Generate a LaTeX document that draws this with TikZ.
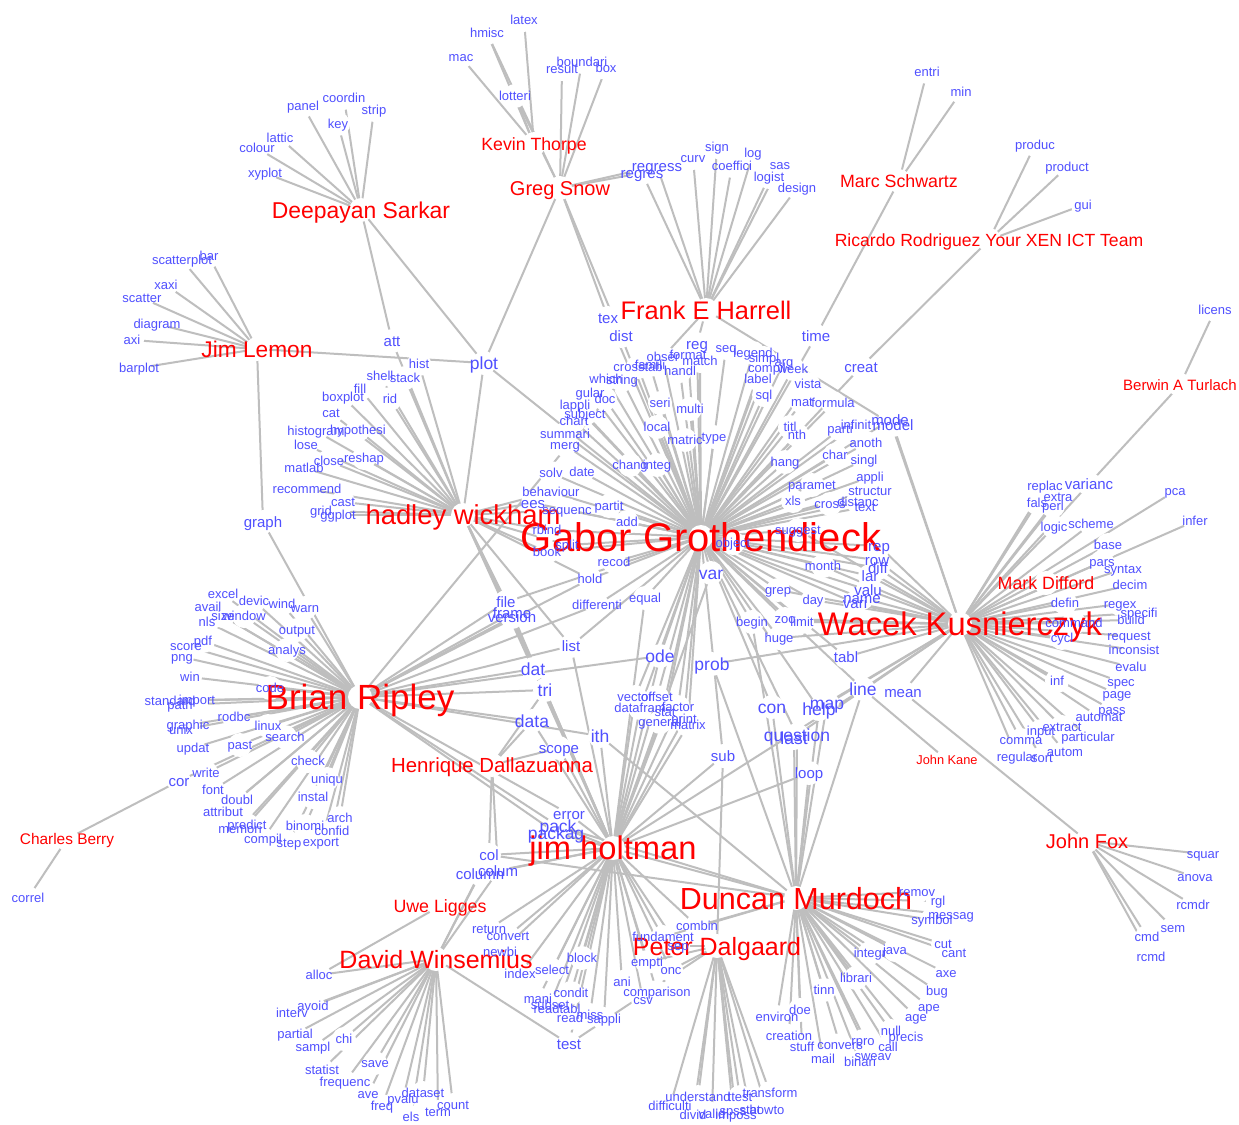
\documentclass[tikz,border=0pt]{standalone}
\usepackage{fontspec}
\setmainfont{Liberation Sans}
\pgfdeclarelayer{bg}\pgfdeclarelayer{edges}\pgfdeclarelayer{dots}
\pgfsetlayers{bg,edges,dots,main}
\definecolor{termblue}{RGB}{80,80,255}
\definecolor{hubred}{RGB}{255,0,0}
\definecolor{edgegray}{RGB}{190,190,190}
\tikzset{
 lab/.style={inner sep=0pt, outer sep=0pt, text depth=0pt},
 tS/.style={lab, text=termblue, font=\fontsize{13}{13}\selectfont, text height=9.4pt},
 tM/.style={lab, text=termblue, font=\fontsize{15}{15}\selectfont, text height=10.8pt},
 tL/.style={lab, text=termblue, font=\fontsize{17.5}{17.5}\selectfont, text height=12.6pt},
 hub/.style 2 args={lab, text=hubred, font=\fontsize{#1}{#1}\selectfont, text height=#2pt},
 lnk/.style={draw=edgegray, line width=2pt},
}
\gdef\allnodes{GG}
\newcommand\mynode[5]{\node[#4] (#1) at (#2,#3) {#5};\xdef\allnodes{\allnodes,#1}}
\newcommand\Wd[4][tS]{\mynode{#2}{#3}{#4}{#1}{#2}}
\newcommand\myedges[2]{\foreach \nn in {#2}{\draw[lnk] (#1.center) -- (\nn.center);}}
\begin{document}
\begin{tikzpicture}[x=1pt,y=-1pt]
\begin{pgfonlayer}{bg}\fill[white] (0,0) rectangle (1239,1124);\end{pgfonlayer}
\useasboundingbox (0,0) rectangle (1239,1124);
% hubs
\node[hub={40}{28.8}] (GG) at (701,537) {Gabor Grothendieck};
\mynode{BR}{360}{697}{hub={35}{25.2}}{Brian Ripley}
\mynode{WK}{960}{624}{hub={32.7}{23.5}}{Wacek Kusnierczyk}
\mynode{JH}{613}{848}{hub={32.7}{23.5}}{jim holtman}
\mynode{DM}{796}{898}{hub={30.5}{22}}{Duncan Murdoch}
\mynode{PD}{717}{946}{hub={25}{18}}{Peter Dalgaard}
\mynode{DW}{436}{959}{hub={25}{18}}{David Winsemius}
\mynode{HW}{463}{515}{hub={27.4}{19.7}}{hadley wickham}
\mynode{FH}{706}{310}{hub={25.4}{18.3}}{Frank E Harrell}
\mynode{DS}{361}{210}{hub={22.9}{16.5}}{Deepayan Sarkar}
\mynode{JL}{257}{349}{hub={22.7}{16.3}}{Jim Lemon}
\mynode{GS}{560}{188}{hub={20}{14.4}}{Greg Snow}
\mynode{KT}{534}{144}{hub={17.7}{12.7}}{Kevin Thorpe}
\mynode{MS}{899}{181}{hub={17.8}{12.8}}{Marc Schwartz}
\mynode{RR}{989}{240}{hub={17.6}{12.7}}{Ricardo Rodriguez Your XEN ICT Team}
\mynode{BT}{1180}{385}{hub={15}{10.8}}{Berwin A Turlach}
\mynode{MD}{1046}{583}{hub={17.8}{12.8}}{Mark Difford}
\mynode{JK}{947}{760}{hub={12.8}{9.2}}{John Kane}
\mynode{JF}{1087}{841}{hub={20}{14.4}}{John Fox}
\mynode{CB}{67}{839}{hub={15.4}{11.1}}{Charles Berry}
\mynode{UL}{440}{906}{hub={17.8}{12.8}}{Uwe Ligges}
\mynode{HD}{492}{765}{hub={20.4}{14.7}}{Henrique Dallazuanna}
% top-left
\Wd{coordin}{344}{98}
\Wd{panel}{303}{106}
\Wd{strip}{374}{110}
\Wd{key}{338}{124}
\Wd{lattic}{280}{138}
\Wd{colour}{257}{148}
\Wd{xyplot}{265}{173}
\Wd{scatterplot}{182}{260}
\Wd{bar}{209}{256}
\Wd{xaxi}{166}{285}
\Wd{scatter}{142}{298}
\Wd{diagram}{157}{324}
\Wd{axi}{132}{340}
\Wd{barplot}{139}{368}
\Wd[tM]{att}{392}{341}
\Wd{hist}{419}{364}
\Wd[tL]{plot}{484}{363}
\Wd[tM]{graph}{263}{522}
\Wd{latex}{524}{20}
\Wd{hmisc}{487}{33}
\Wd{mac}{461}{57}
\Wd{lotteri}{515}{96}
\Wd{boundari}{582}{62}
\Wd{result}{562}{69}
\Wd{box}{606}{68}
\Wd{sign}{717}{147}
\Wd{curv}{693}{158}
\Wd{log}{753}{153}
\Wd{coeffici}{732}{166}
\Wd{sas}{780}{165}
\Wd{logist}{769}{177}
\Wd{design}{797}{188}
\Wd[tM]{regress}{657}{166}
\Wd[tM]{regres}{642}{173}
\Wd[tM]{tex}{608}{318}
\Wd[tM]{dist}{621}{336}
\Wd[tM]{time}{816}{336}
\Wd[tM]{creat}{861}{367}
\Wd{entri}{927}{72}
\Wd{min}{961}{92}
\Wd{produc}{1035}{145}
\Wd{product}{1067}{167}
\Wd{gui}{1083}{205}
\Wd{licens}{1215}{310}
% Gabor cluster
\Wd[tM]{reg}{697}{344}
\Wd{seq}{726}{348}
\Wd{legend}{753}{353}
\Wd{simpl}{764}{358}
\Wd{arg}{784}{362}
\mynode{compil2}{767}{368}{tS}{compil}
\Wd{week}{793}{369}
\Wd{obser}{663}{357}
\Wd{format}{688}{355}
\Wd{match}{700}{361}
\Wd{famili}{650}{365}
\Wd{crosstab}{638}{367}
\Wd{handl}{680}{371}
\Wd{label}{758}{379}
\Wd{vista}{808}{384}
\Wd{which}{606}{379}
\Wd{string}{622}{380}
\Wd{sql}{764}{395}
\Wd{doc}{605}{399}
\Wd{gular}{590}{393}
\Wd{mat}{802}{402}
\Wd{formula}{833}{403}
\Wd{seri}{660}{403}
\Wd{multi}{690}{409}
\Wd{lappli}{575}{405}
\Wd{subject}{585}{414}
\Wd{chart}{574}{421}
\Wd{summari}{565}{434}
\Wd{merg}{565}{445}
\Wd{local}{657}{427}
\Wd{titl}{790}{427}
\Wd{nth}{797}{435}
\Wd{parti}{840}{429}
\Wd{infinit}{856}{425}
\Wd[tM]{model}{893}{425}
\Wd[tM]{mode}{890}{420}
\Wd{matric}{685}{440}
\Wd{type}{714}{437}
\Wd{anoth}{866}{443}
\Wd{hang}{785}{462}
\Wd{char}{835}{455}
\Wd{singl}{864}{460}
\Wd{chang}{630}{465}
\Wd{integ}{657}{465}
\Wd{solv}{551}{473}
\Wd{date}{582}{472}
\Wd{paramet}{812}{485}
\Wd{appli}{870}{477}
\Wd{structur}{870}{491}
\Wd{behaviour}{551}{492}
\Wd{xls}{793}{501}
\Wd{cross}{830}{504}
\Wd{distanc}{858}{502}
\Wd{text}{865}{507}
\Wd{partit}{609}{506}
\Wd[tM]{ees}{533}{503}
\Wd{sequenc}{567}{510}
\Wd{add}{627}{522}
\Wd{rbind}{547}{530}
\Wd{split}{567}{545}
\Wd{book}{547}{552}
\Wd{suggest}{798}{530}
\Wd{object}{733}{543}
\Wd{recod}{614}{562}
\Wd[tL]{var}{711}{573}
\Wd{hold}{590}{579}
\Wd{month}{823}{566}
\Wd{grep}{778}{590}
\Wd{equal}{645}{598}
\Wd{day}{813}{600}
\Wd{differenti}{597}{605}
\Wd[tM]{file}{506}{602}
\Wd[tM]{frame}{512}{613}
\Wd[tM]{version}{512}{617}
\Wd{begin}{752}{622}
\Wd{zoo}{785}{619}
\Wd{limit}{802}{622}
\Wd{huge}{779}{638}
\Wd[tM]{list}{571}{646}
\Wd[tL]{ode}{660}{656}
\Wd[tL]{prob}{712}{664}
\Wd[tL]{dat}{533}{669}
\Wd[tL]{tri}{545}{690}
\Wd[tL]{con}{772}{707}
\Wd[tL]{help}{819}{709}
\Wd[tL]{map}{827}{703}
\Wd{vector}{635}{697}
\Wd{offset}{657}{697}
\mynode{dataf}{640}{708}{tS}{datafram}
\Wd{factor}{678}{707}
\mynode{stat2}{665}{712}{tS}{stat}
\Wd{general}{660}{722}
\Wd{print}{684}{719}
\Wd{matrix}{688}{725}
\Wd[tL]{data}{532}{721}
\Wd[tL]{ith}{600}{736}
\Wd[tM]{scope}{559}{748}
\Wd[tM]{sub}{723}{756}
\Wd[tL]{question}{797}{735}
\Wd[tL]{last}{794}{738}
\Wd[tM]{loop}{809}{773}
\Wd[tL]{line}{863}{689}
\Wd[tM]{tabl}{846}{657}
\Wd[tM]{mean}{903}{692}
% Wacek
\Wd{replac}{1045}{486}
\Wd[tM]{varianc}{1089}{484}
\Wd{extra}{1058}{497}
\Wd{fals}{1037}{503}
\Wd{perl}{1053}{506}
\Wd{pca}{1175}{491}
\Wd{logic}{1054}{527}
\Wd{scheme}{1091}{524}
\Wd{infer}{1195}{521}
\Wd{base}{1108}{545}
\Wd{pars}{1102}{562}
\Wd{syntax}{1123}{569}
\Wd{decim}{1130}{585}
\Wd{defin}{1065}{603}
\Wd{regex}{1120}{604}
\Wd{specifi}{1139}{613}
\Wd{build}{1131}{620}
\Wd{command}{1074}{623}
\Wd{cycl}{1062}{638}
\Wd{request}{1129}{636}
\Wd{inconsist}{1134}{650}
\Wd{evalu}{1131}{667}
\Wd{inf}{1057}{681}
\Wd{spec}{1121}{682}
\Wd{page}{1117}{694}
\Wd{pass}{1112}{710}
\Wd{automat}{1099}{717}
\Wd{extract}{1062}{727}
\Wd{input}{1041}{731}
\Wd{particular}{1088}{737}
\Wd{comma}{1021}{740}
\Wd{autom}{1065}{752}
\Wd{regular}{1017}{757}
\Wd{sort}{1042}{758}
\Wd[tM]{rep}{879}{546}
\Wd[tM]{row}{877}{560}
\Wd[tM]{diff}{878}{568}
\Wd[tM]{lar}{870}{576}
\Wd[tM]{valu}{868}{590}
\Wd[tM]{name}{862}{598}
\Wd[tM]{vari}{855}{603}
% Brian
\Wd{excel}{223}{594}
\Wd{avail}{208}{607}
\Wd{devic}{254}{601}
\Wd{wind}{282}{604}
\Wd{warn}{305}{608}
\Wd{size}{223}{616}
\Wd{window}{244}{616}
\Wd{nls}{207}{622}
\Wd{output}{297}{630}
\Wd{pdf}{203}{641}
\Wd{score}{186}{646}
\Wd{png}{182}{657}
\Wd{analys}{287}{650}
\Wd{win}{190}{677}
\Wd{code}{270}{688}
\Wd{standard}{170}{701}
\Wd{path}{180}{705}
\Wd{import}{197}{700}
\Wd{rodbc}{234}{717}
\Wd{graphic}{188}{725}
\Wd{unix}{181}{730}
\Wd{linux}{268}{726}
\Wd{search}{285}{737}
\Wd{updat}{193}{748}
\Wd{past}{240}{745}
\Wd{check}{308}{761}
\Wd{write}{206}{773}
\Wd[tM]{cor}{179}{781}
\Wd{uniqu}{327}{779}
\Wd{font}{213}{790}
\Wd{instal}{313}{797}
\Wd{doubl}{237}{800}
\Wd{attribut}{223}{812}
\Wd{arch}{340}{818}
\Wd{predict}{247}{825}
\Wd{memori}{240}{829}
\Wd{binomi}{305}{826}
\Wd{confid}{332}{831}
\Wd{compil}{263}{839}
\Wd{step}{289}{843}
\Wd{export}{321}{842}
% hadley
\Wd{shell}{380}{376}
\Wd{stack}{405}{378}
\Wd{fill}{360}{389}
\Wd{boxplot}{343}{397}
\Wd{rid}{390}{399}
\Wd{cat}{331}{413}
\Wd{histogram}{316}{431}
\Wd{hypothesi}{358}{430}
\Wd{lose}{306}{445}
\Wd{close}{329}{461}
\Wd{reshap}{364}{458}
\Wd{matlab}{304}{468}
\Wd{recommend}{307}{489}
\Wd{cast}{343}{502}
\Wd{grid}{321}{511}
\Wd{ggplot}{338}{515}
\Wd{correl}{28}{898}
% jim
\Wd[tM]{error}{569}{814}
\Wd[tL]{pack}{558}{826}
\Wd[tL]{packag}{556}{833}
\Wd[tM]{col}{489}{855}
\Wd[tM]{colum}{498}{871}
\Wd[tM]{column}{480}{874}
\Wd{return}{489}{929}
\Wd{convert}{508}{936}
\Wd{newbi}{500}{952}
\Wd{index}{520}{974}
\Wd{select}{552}{970}
\Wd{block}{582}{958}
\Wd{condit}{571}{993}
\Wd{mani}{538}{999}
\Wd{subset}{550}{1005}
\Wd{readtabl}{557}{1009}
\Wd{read}{570}{1018}
\Wd{miss}{590}{1015}
\Wd{sappli}{604}{1019}
\Wd[tM]{test}{569}{1044}
\Wd{ani}{622}{982}
\Wd{comparison}{657}{992}
\Wd{csv}{643}{1000}
\Wd{empti}{647}{962}
\Wd{onc}{671}{970}
\Wd{fundament}{663}{937}
\Wd{sep}{678}{946}
\Wd{combin}{697}{926}
% Peter
\Wd{understand}{698}{1097}
\Wd{ttest}{740}{1097}
\Wd{transform}{770}{1093}
\Wd{difficulti}{670}{1106}
\Wd{divid}{693}{1115}
\Wd{valid}{712}{1114}
\Wd{imposs}{736}{1115}
\Wd{spss}{733}{1111}
\mynode{stat3}{750}{1110}{tS}{stat}
\Wd{howto}{767}{1110}
% Duncan
\Wd{remov}{917}{892}
\Wd{rgl}{938}{901}
\Wd{messag}{951}{915}
\Wd{symbol}{932}{920}
\Wd{cut}{943}{944}
\Wd{cant}{954}{953}
\Wd{java}{895}{950}
\Wd{integr}{870}{953}
\Wd{axe}{946}{973}
\Wd{librari}{856}{978}
\Wd{bug}{937}{991}
\Wd{tinn}{824}{990}
\Wd{ape}{929}{1007}
\Wd{age}{916}{1017}
\Wd{null}{891}{1031}
\Wd{precis}{906}{1037}
\Wd{rpro}{863}{1041}
\Wd{call}{888}{1047}
\Wd{convers}{840}{1045}
\Wd{sweav}{873}{1056}
\Wd{binari}{860}{1062}
\Wd{mail}{823}{1059}
\Wd{environ}{777}{1017}
\Wd{doe}{800}{1010}
\Wd{creation}{789}{1036}
\Wd{stuff}{802}{1047}
% David
\Wd{alloc}{319}{975}
\Wd{avoid}{313}{1006}
\Wd{interv}{292}{1013}
\Wd{partial}{295}{1034}
\Wd{chi}{344}{1039}
\Wd{sampl}{313}{1047}
\Wd{save}{375}{1063}
\Wd{statist}{322}{1070}
\Wd{frequenc}{345}{1082}
\Wd{ave}{368}{1094}
\Wd{dataset}{423}{1093}
\Wd{pvalu}{403}{1099}
\Wd{freq}{382}{1106}
\Wd{els}{411}{1117}
\Wd{count}{453}{1105}
\Wd{term}{438}{1112}
% John Fox
\Wd{squar}{1203}{854}
\Wd{anova}{1195}{877}
\Wd{rcmdr}{1193}{905}
\Wd{sem}{1173}{928}
\Wd{cmd}{1147}{937}
\Wd{rcmd}{1151}{957}
% white vertex discs
\begin{pgfonlayer}{dots}
\foreach \nn in \allnodes {\fill[white] (\nn.center) circle (12pt);}
\end{pgfonlayer}
% edges
\begin{pgfonlayer}{edges}
\myedges{DS}{coordin,panel,strip,key,lattic,colour,xyplot,att,plot}
\myedges{JL}{scatterplot,bar,xaxi,scatter,diagram,axi,barplot,plot,graph}
\myedges{KT}{latex,hmisc,mac,lotteri}
\myedges{GS}{hmisc,lotteri,result,boundari,box,regres,regress,tex,dist,plot}
\myedges{FH}{sign,curv,log,coeffici,sas,logist,design,regress,regres,model,reg,obser}
\myedges{MS}{entri,min,time}
\myedges{RR}{produc,product,gui,creat}
\myedges{BT}{licens,varianc}
\myedges{CB}{cor,correl}
\myedges{UL}{alloc}
\myedges{JF}{squar,anova,rcmdr,sem,cmd,rcmd,mean}
\myedges{JK}{line}
\myedges{HD}{col,colum,data,scope,tri}
\myedges{HW}{shell,stack,fill,boxplot,rid,cat,histogram,hypothesi,lose,close,reshap,matlab,recommend,cast,grid,ggplot,hist,att,plot,rbind,split,book,ees,sequenc,behaviour,hold,file,frame,version,dat,tri,list}
\myedges{BR}{excel,avail,devic,wind,warn,size,window,nls,output,pdf,score,png,analys,win,code,standard,path,import,rodbc,graphic,unix,linux,search,updat,past,check,write,cor,uniqu,font,instal,doubl,attribut,arch,predict,memori,binomi,confid,compil,step,export,graph,hold,differenti,file,frame,version,dat,tri,data,ith,error,pack,packag,ode,string,list}
\myedges{GG}{plot,time,creat,tex,dist,reg,seq,legend,simpl,arg,compil2,week,obser,format,match,famili,crosstab,handl,label,vista,which,string,sql,doc,gular,mat,formula,seri,multi,lappli,subject,chart,summari,merg,local,titl,nth,parti,infinit,matric,type,anoth,hang,char,singl,chang,integ,solv,date,paramet,appli,structur,behaviour,xls,cross,distanc,text,partit,ees,sequenc,add,rbind,split,book,suggest,object,recod,var,hold,month,grep,equal,day,differenti,file,begin,zoo,limit,huge,list,ode,vector,offset,dataf,factor,stat2,general,print,matrix,con,help,question,sub,line,tabl,rep,row,diff,lar,valu,name,vari,mode}
\myedges{WK}{replac,varianc,extra,fals,perl,pca,logic,scheme,infer,base,pars,syntax,decim,defin,regex,specifi,build,command,cycl,request,inconsist,evalu,inf,spec,page,pass,automat,extract,input,particular,comma,autom,regular,sort,model,mode,mean,tabl,line,rep,row,diff,lar,valu,name,vari,month,day,limit,zoo,huge,grep,prob,help,map,question,suggest}
\myedges{JH}{error,pack,packag,col,colum,column,return,convert,newbi,index,select,block,condit,mani,subset,readtabl,read,miss,sappli,test,ani,comparison,csv,empti,onc,fundament,sep,combin,loop,sub,ith,scope,data,dat,tri,list,vector,offset,dataf,factor,stat2,general,print,matrix,var,ode,equal,line,frame,version}
\myedges{DM}{remov,rgl,messag,symbol,cut,cant,java,integr,axe,librari,bug,tinn,ape,age,null,precis,rpro,call,convers,sweav,binari,mail,environ,doe,creation,stuff,loop,con,help,map,question,last,prob,ith,combin,fundament,line,begin,packag,pack,col}
\myedges{PD}{understand,ttest,transform,difficulti,divid,valid,imposs,spss,stat3,howto,onc,sub,test,sep,empti}
\myedges{DW}{alloc,avoid,interv,partial,chi,sampl,save,statist,frequenc,ave,dataset,pvalu,freq,els,count,term,test,column,colum,col}
\end{pgfonlayer}
\end{tikzpicture}
\end{document}
